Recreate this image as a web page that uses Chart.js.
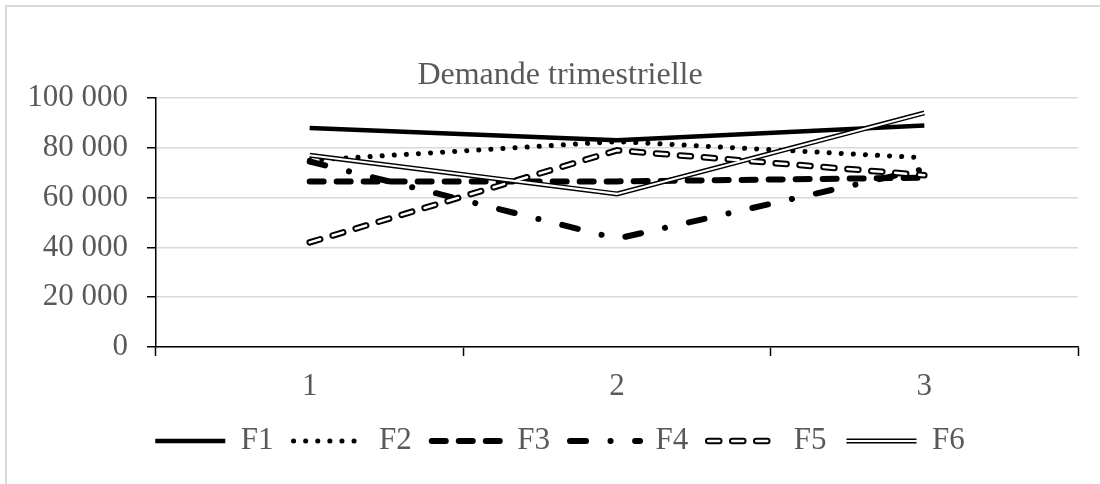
<!DOCTYPE html>
<html>
<head>
<meta charset="utf-8">
<script src="https://cdn.jsdelivr.net/npm/chart.js@4.4.1/dist/chart.umd.min.js"></script>
<style>
  html, body { margin: 0; padding: 0; background: #fff; overflow: hidden; }
  #box { position: absolute; left: 5px; top: 5px; width: 1100px; height: 477px;
         border-left: 2px solid #d9d9d9; border-top: 2px solid #d9d9d9; }
</style>
</head>
<body>
<div id="box"><canvas id="chart"></canvas></div>
<script>
const quarters = ["1", "2", "3"];
const f1 = [88000, 83000, 89000];
const f2 = [75000, 82500, 76000];
const f3 = [66500, 66500, 68000];
const f4 = [74500, 43500, 71500];
const f5 = [42000, 79000, 69000];
const f6 = [77000, 61500, 94000];
const yMax = 100000;
const yStep = 20000;

const serif = "'Liberation Serif', 'Times New Roman', serif";
const grey = "#595959";
const tickSize = 31;

function line(label, data, width, dash, cap) {
  return {
    label: label, data: data,
    borderColor: "#000", backgroundColor: "#000",
    borderWidth: width, borderDash: dash, borderCapStyle: cap,
    pointRadius: 0, tension: 0, fill: false, order: 1
  };
}

// white inner stroke, drawn on top of its parent to make hollow / double lines
function inner(parent, data, width, dash) {
  return {
    parent: parent, data: data,
    borderColor: "#fff", backgroundColor: "#fff",
    borderWidth: width, borderDash: dash, borderCapStyle: "round",
    pointRadius: 0, tension: 0, fill: false, order: 0
  };
}

const datasets = [
  line("F1", f1, 4.5, [], "butt"),
  line("F2", f2, 5, [0.1, 12], "round"),
  line("F3", f3, 6, [14, 13], "round"),
  line("F4", f4, 6, [16, 24.5, 0.1, 24.5], "round"),
  line("F5", f5, 6.5, [11, 13], "round"),
  line("F6", f6, 5, [], "butt"),
  inner("F5", f5, 2.5, [11, 13]),
  inner("F6", f6, 2, [])
];

// y labels sit left of the axis box (mirror avoids the label clip)
const measure = document.createElement("canvas").getContext("2d");
measure.font = tickSize + "px " + serif;
const widest = measure.measureText("100 000").width;

const legendInner = {
  id: "legendInner",
  afterDraw(chart) {
    const legend = chart.legend;
    const ctx = chart.ctx;
    const w = legend.options.labels.pointStyleWidth;
    legend.legendItems.forEach((item, i) => {
      const ds = chart.data.datasets.find(d => d.parent === item.text);
      const hb = legend.legendHitBoxes[i];
      if (!ds || !hb) return;
      const cy = hb.top + hb.height / 2;
      ctx.save();
      ctx.strokeStyle = "#fff";
      ctx.lineWidth = ds.borderWidth;
      ctx.lineCap = "round";
      ctx.setLineDash(ds.borderDash);
      ctx.beginPath();
      ctx.moveTo(hb.left, cy);
      ctx.lineTo(hb.left + w, cy);
      ctx.stroke();
      ctx.restore();
    });
  }
};

new Chart(document.getElementById("chart"), {
  type: "line",
  data: { labels: quarters, datasets: datasets },
  plugins: [legendInner],
  options: {
    responsive: true,
    maintainAspectRatio: false,
    animation: false,
    layout: { padding: { left: 35, right: 29, top: 0, bottom: 17.5 } },
    plugins: {
      title: {
        display: true,
        text: "Demande trimestrielle",
        color: grey,
        font: { family: serif, size: 32, weight: "normal" },
        padding: { top: 49, bottom: 3.6 }
      },
      legend: {
        position: "bottom",
        labels: {
          usePointStyle: true,
          pointStyleWidth: 70,
          padding: 20,
          color: grey,
          font: { family: serif, size: tickSize },
          generateLabels: chart => chart.data.datasets
            .map((d, i) => ({
              text: d.label, datasetIndex: i, hidden: false,
              fillStyle: "#000", strokeStyle: "#000", fontColor: grey,
              lineWidth: d.borderWidth, lineDash: d.borderDash, lineCap: d.borderCapStyle,
              pointStyle: "line"
            }))
            .filter(it => !chart.data.datasets[it.datasetIndex].parent)
        }
      },
      tooltip: { enabled: false }
    },
    scales: {
      x: {
        offset: true,
        afterFit: s => { s.height = 58.5; },
        grid: { offset: true, drawOnChartArea: false, drawTicks: true, tickLength: 9,
                tickColor: "#000", tickWidth: 1.5 },
        border: { color: "#000", width: 1.5 },
        ticks: { color: grey, font: { family: serif, size: tickSize }, padding: 12 }
      },
      y: {
        min: 0, max: yMax,
        afterFit: s => { s.width = 114; },
        grid: { color: "#d9d9d9", lineWidth: 1.5, drawTicks: true, tickLength: 9,
                tickColor: "#000", tickWidth: 1.5 },
        border: { color: "#000", width: 1.5 },
        ticks: {
          stepSize: yStep, color: grey,
          mirror: true, crossAlign: "far", padding: -(28 + widest),
          font: { family: serif, size: tickSize },
          callback: v => String(v).replace(/\B(?=(\d{3})+(?!\d))/g, " ")
        }
      }
    }
  }
});
</script>
</body>
</html>
